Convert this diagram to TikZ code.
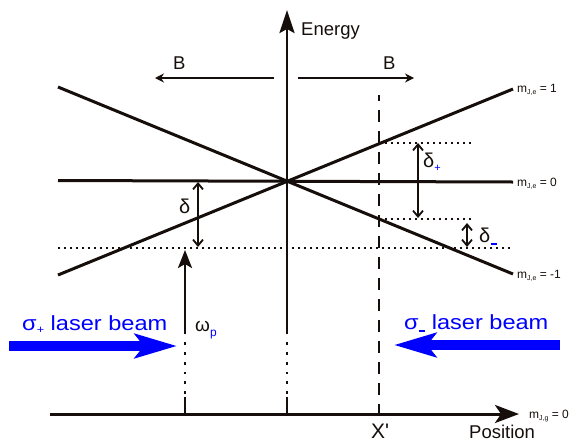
\documentclass[tikz,border=0pt]{standalone}
\usepackage{fontspec}
\setmainfont{Liberation Sans}
\newfontfamily\beamfont[FakeStretch=1.15]{Liberation Sans}
\usetikzlibrary{arrows.meta}
\definecolor{ink}{RGB}{22,14,10}
\definecolor{beamblue}{RGB}{0,0,255}
\newcommand{\mlabel}[2]{m\raisebox{-2.2pt}{\fontsize{7}{7}\selectfont #1} = #2}
\newcommand{\bluebar}[1]{\textcolor{beamblue}{\rule[#1]{6pt}{1.7pt}}}
\begin{document}
\begin{tikzpicture}[x=1pt,y=-1pt,
  level/.style={draw=ink,line width=3pt},
  axisline/.style={draw=ink,line width=2.8pt},
  dotline/.style={draw=ink,line width=1.6pt,dash pattern=on 1.6pt off 4.4pt},
  dotaxis/.style={draw=ink,line width=2.8pt,dash pattern=on 2.8pt off 7pt},
  dashline/.style={draw=ink,line width=2.6pt,dash pattern=on 12pt off 9pt,dash phase=6pt},
  barrow/.style={draw=ink,line width=1.3pt,-{Stealth[length=9pt,width=9pt]}},
  darrow/.style={draw=ink,line width=1.8pt,{Straight Barb[length=6pt,width=10pt]}-{Straight Barb[length=6pt,width=10pt]}},
  beam/.style={draw=beamblue,line width=10pt,-{Stealth[length=42pt,width=24pt,inset=9pt]}},
  lbl/.style={inner sep=0pt,anchor=base west,text=ink},
  big/.style={font=\fontsize{18.5}{20}\selectfont},
  small/.style={font=\fontsize{12}{13}\selectfont},
  beamtext/.style={inner sep=0pt,anchor=base west,text=beamblue,font=\beamfont\fontsize{20.5}{22}\selectfont}]
\useasboundingbox (0,0) rectangle (577,442);

% level lines
\coordinate (mA) at (58,87);    \coordinate (mB) at (513,274);
\coordinate (pA) at (58,275);   \coordinate (pB) at (513,89);
\coordinate (zA) at (58,180.5); \coordinate (zB) at (513,182);
\draw[level] (mA) -- (mB);
\draw[level] (pA) -- (pB);
\draw[level] (zA) -- (zB);

% dashed X' line
\coordinate (xtop) at (379,95); \coordinate (xbot) at (379,414);
\draw[dashline] (xtop) -- (xbot);

% dotted lines
\coordinate (d1a) at (379,143); \coordinate (d1b) at (474,143);
\coordinate (d2a) at (379,219); \coordinate (d2b) at (474,219);
\coordinate (d3a) at (58,248);  \coordinate (d3b) at (513,248);
\draw[dotline] (d1a) -- (d1b);
\draw[dotline] (d2a) -- (d2b);
\draw[dotline] (d3a) -- (d3b);

% energy axis
\coordinate (e0) at (287,414); \coordinate (e1) at (287,397);
\coordinate (e2) at (287,394); \coordinate (e3) at (287,337);
\coordinate (e4) at (287,334); \coordinate (etip) at (287,10);
\draw[axisline] (e0) -- (e1);
\draw[dotaxis] (e2) -- (e3);
\draw[axisline,-{Stealth[length=23pt,width=15pt,inset=4pt]}] (e4) -- (etip);
\node[lbl,big] (energy) at (301,35) {Energy};

% omega_p arrow
\coordinate (w0) at (185,414); \coordinate (w1) at (185,397);
\coordinate (w2) at (185,394); \coordinate (w3) at (185,337);
\coordinate (w4) at (185,334); \coordinate (wtip) at (185,250);
\draw[axisline] (w0) -- (w1);
\draw[dotaxis] (w2) -- (w3);
\draw[axisline,-{Stealth[length=18pt,width=14pt,inset=4pt]}] (w4) -- (wtip);
\node[lbl,font=\fontsize{19}{20}\selectfont] (omega) at (195,331) {ω\raisebox{-5pt}{\fontsize{12}{12}\selectfont\color{beamblue}p}};

% position axis
\coordinate (p0) at (50,414); \coordinate (ptip) at (519,414);
\draw[draw=ink,line width=3pt,-{Stealth[length=24pt,width=18pt,inset=6pt]}] (p0) -- (ptip);
\node[lbl,big] (position) at (469,438) {Position};
\node[lbl,font=\fontsize{21}{23}\selectfont] (xprime) at (371,438) {X\textquotesingle};
\node[lbl,small] (mg) at (529,418) {\mlabel{J,g}{0}};

% B arrows
\coordinate (bl0) at (274,78); \coordinate (bl1) at (155,78);
\coordinate (br0) at (298,78); \coordinate (br1) at (414,78);
\draw[barrow] (bl0) -- (bl1);
\draw[barrow] (br0) -- (br1);
\node[lbl,big] (Bl) at (173,69) {B};
\node[lbl,big] (Br) at (383,69) {B};

% level labels
\node[lbl,small] (m1) at (517,92) {\mlabel{J,e}{1}};
\node[lbl,small] (m0) at (517,186) {\mlabel{J,e}{0}};
\node[lbl,small] (mm1) at (517,278) {\mlabel{J,e}{-1}};

% delta arrows
\coordinate (dpa) at (418,143); \coordinate (dpb) at (418,218);
\coordinate (dma) at (467,223); \coordinate (dmb) at (467,247);
\coordinate (da) at (198,182);  \coordinate (db) at (198,247);
\draw[darrow] (dpa) -- (dpb);
\draw[darrow] (dma) -- (dmb);
\draw[darrow] (da) -- (db);
\node[lbl,font=\fontsize{20}{22}\selectfont] (delta) at (179,213) {δ};
\node[lbl,font=\fontsize{20}{22}\selectfont] (deltap) at (423,167) {δ\raisebox{-4pt}{\fontsize{11}{11}\selectfont\color{beamblue}+}};
\node[lbl,font=\fontsize{20}{22}\selectfont] (deltam) at (479,242) {δ\hspace{0.5pt}\bluebar{-3pt}};

% laser beams
\coordinate (s1a) at (9,346);  \coordinate (s1b) at (177,346);
\coordinate (s2a) at (560,345); \coordinate (s2b) at (394,345);
\draw[beam] (s1a) -- (s1b);
\draw[beam] (s2a) -- (s2b);
\node[beamtext] (sp) at (22,330) {σ\raisebox{-3pt}{\fontsize{11}{11}\selectfont +} laser beam};
\node[beamtext] (sm) at (404,329) {σ\hspace{0.5pt}\bluebar{-2.5pt} laser beam};
\end{tikzpicture}
\end{document}
